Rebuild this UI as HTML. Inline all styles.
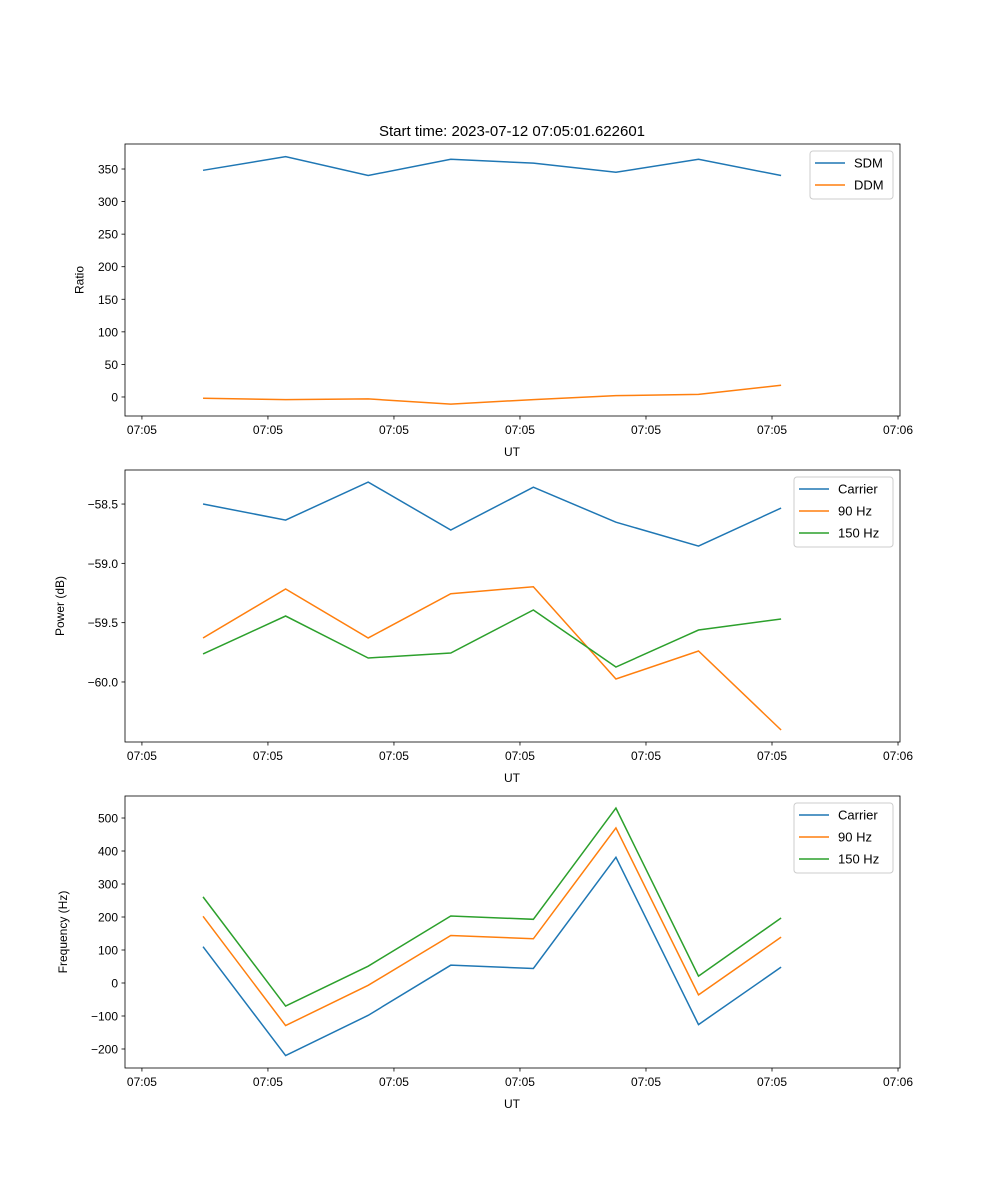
<!DOCTYPE html>
<html><head><meta charset="utf-8">
<style>body{margin:0;background:#fff}svg{display:block;font-family:"Liberation Sans","DejaVu Sans",sans-serif}</style>
</head><body>
<svg id="fig" width="1000" height="1200" viewBox="0 0 1000 1200">
<rect width="1000" height="1200" fill="#fff"/>
<text x="512" y="136" font-size="15" text-anchor="middle">Start time: 2023-07-12 07:05:01.622601</text>
</svg>
<script>
const xIdx=[0,1,2,3,4,5,6,7];
const xTickPos=[-0.74,0.786,2.312,3.838,5.364,6.89,8.416];
const xTickLabels=["07:05","07:05","07:05","07:05","07:05","07:05","07:06"];
const sdm=[348,369,340,365,359,345,365,340];
const ddm=[-2,-4,-3,-11,-4,2,4,18];
const ratioTicks=[0,50,100,150,200,250,300,350];
const pCarrier=[-58.5,-58.635,-58.315,-58.719,-58.358,-58.653,-58.854,-58.534];
const p90=[-59.629,-59.216,-59.629,-59.256,-59.197,-59.975,-59.739,-60.405];
const p150=[-59.764,-59.444,-59.798,-59.756,-59.393,-59.874,-59.562,-59.469];
const powerTicks=[-60.0,-59.5,-59.0,-58.5];
const fCarrier=[110,-220,-98,54,44,381,-126,48];
const f90=[202,-129,-7,144,134,470,-36,139];
const f150=[261,-70,51,203,193,530,21,197];
const freqTicks=[-200,-100,0,100,200,300,400,500];

const NS="http://www.w3.org/2000/svg";
const svg=document.getElementById('fig');
function mk(tag,attrs,parent,text){const e=document.createElementNS(NS,tag);for(const k in attrs)e.setAttribute(k,attrs[k]);if(text!==undefined)e.textContent=text;(parent||svg).appendChild(e);return e;}
const L=125,R=900,XMIN=-0.945,XMAX=8.44;
function sx(v){return L+(v-XMIN)/(XMAX-XMIN)*(R-L);}
function panel(name,top,bot,ymin,ymax,yticks,fmt,ylabel,lx,series,legend){
  const g=mk('g',{});
  
  
  const sy=v=>bot-(v-ymin)/(ymax-ymin)*(bot-top);
  series.forEach(s=>{
    const d=s.vals.map((v,i)=>(i?'L':'M')+sx(xIdx[i]).toFixed(2)+' '+sy(v).toFixed(2)).join(' ');
    const p=mk('path',{d:d,fill:'none',stroke:s.color,'stroke-width':1.5},g);
    
    
  });
  mk('rect',{x:L,y:top,width:R-L,height:bot-top,fill:'none',stroke:'#000','stroke-width':0.8},g);
  xTickPos.forEach((t,i)=>{const x=sx(t);mk('line',{x1:x,x2:x,y1:bot,y2:bot+3.5,stroke:'#000','stroke-width':0.8},g);
    const tx=mk('text',{x:x,y:bot+18,'font-size':12,'text-anchor':'middle'},g,xTickLabels[i]);
    
    });
  const xl=mk('text',{x:512,y:bot+40,'font-size':12,'text-anchor':'middle'},g,'UT');
  
  
  yticks.forEach(t=>{const y=sy(t);mk('line',{x1:L-3.5,x2:L,y1:y,y2:y,stroke:'#000','stroke-width':0.8},g);
    const tx=mk('text',{x:L-7,y:y+4.5,'font-size':12,'text-anchor':'end'},g,fmt(t));
    
    });
  const yl=mk('text',{x:lx,y:(top+bot)/2,'font-size':12,'text-anchor':'middle',transform:`rotate(-90 ${lx} ${(top+bot)/2})`},g,ylabel);
  
  
  const lg=mk('g',{},g);
  
  
  mk('rect',{x:legend.x,y:top+7,width:893-legend.x,height:series.length*22+4,fill:'#fff',stroke:'#ccc',rx:3},lg);
  series.forEach((s,i)=>{const y=top+19+i*22;
    mk('line',{x1:legend.x+5,x2:legend.x+35,y1:y,y2:y,stroke:s.color,'stroke-width':1.5},lg);
    const t=mk('text',{x:legend.x+44,y:y+4.5,'font-size':13},lg,s.label);
    
    });
}
const C1='#1f77b4',C2='#ff7f0e',C3='#2ca02c';
panel('ratio-panel',144,416,-29.2,388.4,ratioTicks,t=>String(t),'Ratio',83.6,
  [{key:'sdm',vals:sdm,color:C1,label:'SDM'},{key:'ddm',vals:ddm,color:C2,label:'DDM'}],{x:810});
panel('power-panel',470,742,-60.506,-58.213,powerTicks,t=>(t<0?'\u2212':'')+Math.abs(t).toFixed(1),'Power (dB)',64,
  [{key:'carrier',vals:pCarrier,color:C1,label:'Carrier'},{key:'90hz',vals:p90,color:C2,label:'90 Hz'},{key:'150hz',vals:p150,color:C3,label:'150 Hz'}],{x:794});
panel('frequency-panel',796,1068,-257.6,566.7,freqTicks,t=>(t<0?'\u2212':'')+Math.abs(t),'Frequency (Hz)',66.8,
  [{key:'carrier',vals:fCarrier,color:C1,label:'Carrier'},{key:'90hz',vals:f90,color:C2,label:'90 Hz'},{key:'150hz',vals:f150,color:C3,label:'150 Hz'}],{x:794});
</script>
</body></html>
